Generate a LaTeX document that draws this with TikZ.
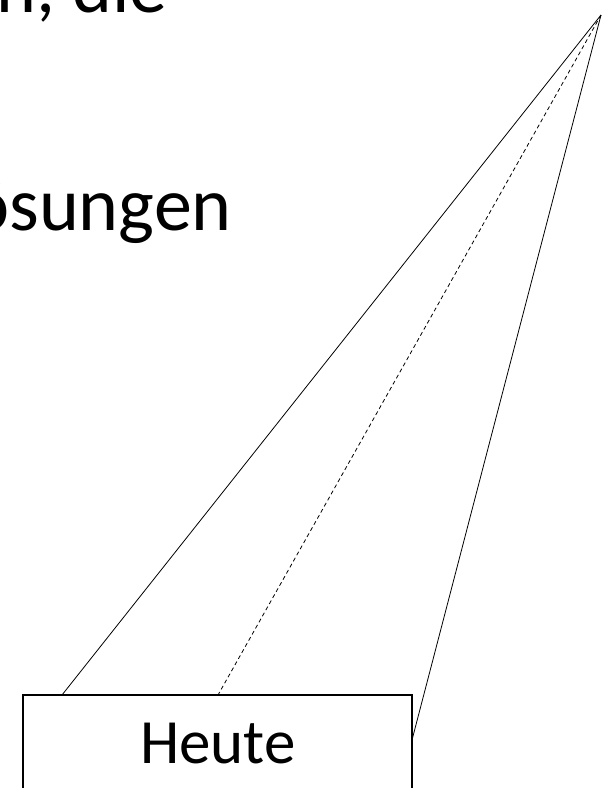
\documentclass[tikz,border=0pt]{standalone}
\usepackage{fontspec}
\setmainfont{Carlito}
\begin{document}
\begin{tikzpicture}[x=1pt,y=-1pt,
  bigtext/.style={inner sep=0pt, font=\fontsize{76}{76}\selectfont},
  boxtext/.style={inner sep=0pt, font=\fontsize{63}{63}\selectfont},
  ray/.style={draw=black, line width=0.8pt},
  dashray/.style={draw=black, line width=0.8pt, dash pattern=on 4pt off 3pt},
  framebox/.style={draw=black, line width=1.5pt, fill=white}]
\useasboundingbox (0,0) rectangle (602,788);
\clip (0,0) rectangle (602,788);
% text fragments
\node[bigtext, anchor=base east] (t1) at (168,12) {n, die};
\node[bigtext, anchor=base east] (t2) at (232,230) {ösungen};
% box
\draw[framebox] (23,695) rectangle (412,800);
\node[boxtext, anchor=base] (heute) at (218,763) {Heute};
% connection points
\coordinate (apex) at (601,15);
\coordinate (pl) at (62,695);
\coordinate (pm) at (218,695);
\coordinate (pr) at (412,740);
\draw[ray] (apex) -- (pl);
\draw[dashray] (apex) -- (pm);
\draw[ray] (apex) -- (pr);
\end{tikzpicture}
\end{document}
